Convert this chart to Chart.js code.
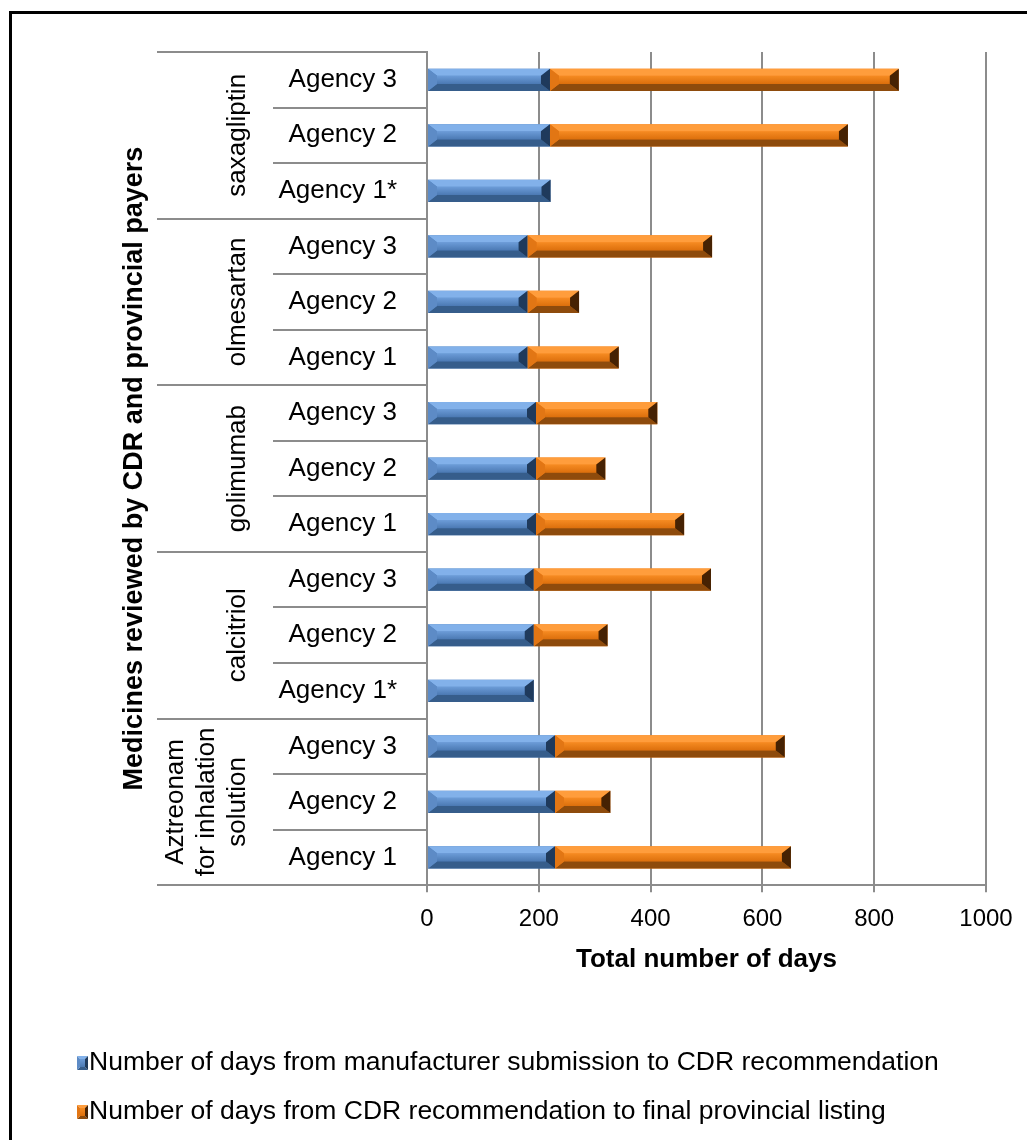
<!DOCTYPE html>
<html lang="en">
<head>
<meta charset="UTF-8">
<title>CDR review to provincial listing</title>
<script src="https://cdn.jsdelivr.net/npm/chart.js@4/dist/chart.umd.js"></script>
<style>
  html, body { margin: 0; padding: 0; background: #fff; }
  #wrap { width: 1027px; height: 1140px; }
</style>
</head>
<body>
<div id="wrap"><canvas id="chart" width="1027" height="1140"></canvas></div>
<script>
// categories, top to bottom
const agencies = ['Agency 3', 'Agency 2', 'Agency 1*',
                  'Agency 3', 'Agency 2', 'Agency 1',
                  'Agency 3', 'Agency 2', 'Agency 1',
                  'Agency 3', 'Agency 2', 'Agency 1*',
                  'Agency 3', 'Agency 2', 'Agency 1'];
const medicines = ['saxagliptin', 'olmesartan', 'golimumab', 'calcitriol',
                   ['Aztreonam', 'for inhalation', 'solution']];
const agenciesPerMedicine = 3;

// days
const submissionToCdr = [220, 220, 221, 180, 180, 180, 195, 195, 195, 191, 191, 191, 229, 229, 229];
const cdrToListing    = [624, 533,   0, 330,  92, 163, 217, 124, 265, 317, 132,   0, 411,  99, 422];

const seriesNames = ['Number of days from manufacturer submission to CDR recommendation',
                     'Number of days from CDR recommendation to final provincial listing'];
const xTitle = 'Total number of days';
const yTitle = 'Medicines reviewed by CDR and provincial payers';

const FONT = '"Liberation Sans", Arial, sans-serif';
const GRID = '#8c8c8c';

const shades = [
  { base: '#4f81bd', top: '#82b1ea', face: ['#6c9cd8', '#4b79b3'], bottom: '#365d8b', left: '#5d8bc6', right: '#1f3a5c' },
  { base: '#f07d14', top: '#ff9d3c', face: ['#f68b22', '#dc6f0c'], bottom: '#8e4b0c', left: '#e27614', right: '#462203' }
];

function bevel(ctx, l, t, r, b, c, dx, dy) {
  dx = Math.min(dx, (r - l) / 2);
  dy = Math.min(dy, (b - t) / 2);
  const poly = (pts, fill) => {
    ctx.beginPath();
    ctx.moveTo(pts[0], pts[1]);
    for (let i = 2; i < pts.length; i += 2) ctx.lineTo(pts[i], pts[i + 1]);
    ctx.closePath();
    ctx.fillStyle = fill;
    ctx.fill();
  };
  const g = ctx.createLinearGradient(0, t + dy, 0, b - dy);
  g.addColorStop(0, c.face[0]);
  g.addColorStop(1, c.face[1]);
  poly([l + dx, t + dy, r - dx, t + dy, r - dx, b - dy, l + dx, b - dy], g);
  poly([l, t, r, t, r - dx, t + dy, l + dx, t + dy], c.top);
  poly([l, b, r, b, r - dx, b - dy, l + dx, b - dy], c.bottom);
  poly([l, t, l + dx, t + dy, l + dx, b - dy, l, b], c.left);
  poly([r, t, r - dx, t + dy, r - dx, b - dy, r, b], c.right);
}

const bevelBars = {
  id: 'bevelBars',
  afterDatasetsDraw(chart) {
    const ctx = chart.ctx;
    ctx.save();
    chart.data.datasets.forEach((ds, i) => {
      chart.getDatasetMeta(i).data.forEach(el => {
        const p = el.getProps(['x', 'y', 'base', 'height'], true);
        if (Math.abs(p.x - p.base) < 0.5) return;
        const l = Math.min(p.x, p.base), r = Math.max(p.x, p.base);
        bevel(ctx, l, p.y - p.height / 2, r, p.y + p.height / 2, shades[i], 9, 7);
      });
    });
    ctx.restore();
  }
};

const decor = {
  id: 'decor',
  afterDraw(chart) {
    const ctx = chart.ctx, ys = chart.scales.y, area = chart.chartArea;
    const step = ys.getPixelForValue(1) - ys.getPixelForValue(0);
    const edge = i => ys.getPixelForValue(i) - step / 2;
    ctx.save();

    // separators in the label area
    ctx.strokeStyle = GRID;
    ctx.lineWidth = 2;
    for (let i = 0; i <= agencies.length; i++) {
      const yy = Math.round(edge(i));
      const x0 = i % agenciesPerMedicine === 0 ? 157 : 273;
      ctx.beginPath();
      ctx.moveTo(x0, yy);
      ctx.lineTo(area.left, yy);
      ctx.stroke();
    }

    // agency labels
    ctx.fillStyle = '#000';
    ctx.font = '26px ' + FONT;
    ctx.textAlign = 'right';
    ctx.textBaseline = 'middle';
    agencies.forEach((a, i) => ctx.fillText(a, 397, ys.getPixelForValue(i)));

    // medicine labels, rotated
    ctx.textAlign = 'center';
    medicines.forEach((m, g) => {
      const lines = Array.isArray(m) ? m : [m];
      const cy = (edge(g * agenciesPerMedicine) + edge((g + 1) * agenciesPerMedicine)) / 2;
      lines.forEach((ln, k) => {
        const cx = 238 - (lines.length - 1 - k) * 31.2;
        ctx.save();
        ctx.translate(cx, cy);
        ctx.rotate(-Math.PI / 2);
        ctx.fillText(ln, 0, 0);
        ctx.restore();
      });
    });

    // y title
    ctx.font = 'bold 27px ' + FONT;
    ctx.save();
    ctx.translate(135, (area.top + area.bottom) / 2);
    ctx.rotate(-Math.PI / 2);
    ctx.fillText(yTitle, 0, 0);
    ctx.restore();

    // legend
    ctx.font = '26.5px ' + FONT;
    ctx.textAlign = 'left';
    seriesNames.forEach((name, i) => {
      const yy = 1063 + i * 49;
      bevel(ctx, 77, yy - 7, 88, yy + 7, shades[i], 3, 3);
      ctx.fillStyle = '#000';
      ctx.fillText(name, 89, yy);
    });

    // outer frame
    ctx.strokeStyle = '#000';
    ctx.lineWidth = 3;
    ctx.strokeRect(10.5, 12.5, 1200, 1200);
    ctx.restore();
  }
};

new Chart(document.getElementById('chart'), {
  type: 'bar',
  data: {
    labels: agencies,
    datasets: seriesNames.map((name, i) => ({
      label: name,
      data: i === 0 ? submissionToCdr : cdrToListing,
      backgroundColor: shades[i].base,
      borderWidth: 0,
      barPercentage: 0.4,
      categoryPercentage: 1
    }))
  },
  options: {
    indexAxis: 'y',
    responsive: false,
    animation: false,
    devicePixelRatio: 1,
    layout: { padding: { left: 0, right: 41, top: 52, bottom: 167 } },
    plugins: { legend: { display: false }, tooltip: { enabled: false } },
    scales: {
      x: {
        stacked: true,
        min: 0,
        max: 1000,
        ticks: { stepSize: 200, color: '#000', padding: 13, font: { family: FONT, size: 24 },
                 callback: v => String(v) },
        grid: { color: GRID, lineWidth: 2, tickLength: 7 },
        border: { color: GRID, width: 2 },
        title: { display: true, text: xTitle, color: '#000', padding: { top: 0, bottom: 0 },
                 font: { family: FONT, size: 26, weight: 'bold', lineHeight: 1 } }
      },
      y: {
        stacked: true,
        ticks: { display: false },
        grid: { display: false },
        border: { color: GRID, width: 2 },
        afterFit(scale) { scale.width = 427; }
      }
    }
  },
  plugins: [bevelBars, decor]
});
</script>
</body>
</html>
